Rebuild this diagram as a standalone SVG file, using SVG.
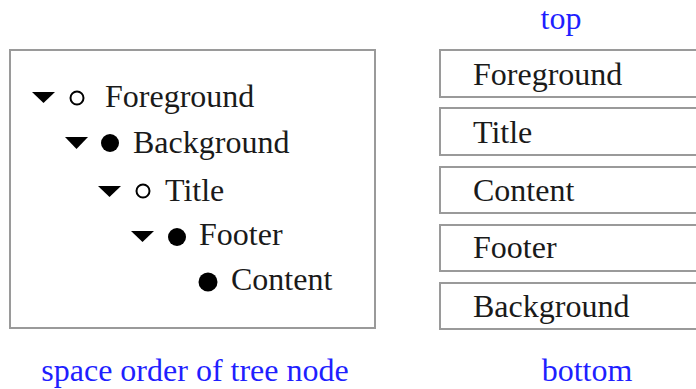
<svg xmlns="http://www.w3.org/2000/svg" width="696" height="389" viewBox="0 0 696 389" font-family="Liberation Serif, serif">
<style>
.t{font-size:32px;fill:#1a1a1a}
.b{font-size:32px;fill:#1f1fff}
.box{fill:#fff;stroke:#9a9a9a;stroke-width:2}
.tri{fill:#000}
.oc{fill:none;stroke:#000;stroke-width:2}
.fc{fill:#000}
</style>
<rect width="696" height="389" fill="#fff"/>
<g id="tree">
<rect class="box" x="10" y="50" width="365" height="278"/>
<g id="n-foreground">
<polygon class="tri" points="32,92 55,92 43.5,103"/>
<circle class="oc" cx="77" cy="98" r="6.5"/>
<text class="t" x="105" y="107" font-family="Liberation Serif, serif">Foreground</text>
</g>
<g id="n-background">
<polygon class="tri" points="65,137 88,137 76.5,149"/>
<circle class="fc" cx="110" cy="143" r="9"/>
<text class="t" x="133" y="153" font-family="Liberation Serif, serif">Background</text>
</g>
<g id="n-title">
<polygon class="tri" points="98,186 121,186 109.5,197"/>
<circle class="oc" cx="143" cy="191" r="6.5"/>
<text class="t" x="165" y="201" font-family="Liberation Serif, serif">Title</text>
</g>
<g id="n-footer">
<polygon class="tri" points="131,231 154,231 142.5,242"/>
<circle class="fc" cx="177" cy="237" r="9"/>
<text class="t" x="199" y="245" font-family="Liberation Serif, serif">Footer</text>
</g>
<g id="n-content">
<circle class="fc" cx="208" cy="282" r="9.5"/>
<text class="t" x="231" y="290" font-family="Liberation Serif, serif">Content</text>
</g>
</g>
<g id="stack">
<g id="s-foreground"><rect class="box" x="440" y="50" width="300" height="47"/><text class="t" x="473" y="85" font-family="Liberation Serif, serif">Foreground</text></g>
<g id="s-title"><rect class="box" x="440" y="108" width="300" height="47"/><text class="t" x="473" y="143" font-family="Liberation Serif, serif">Title</text></g>
<g id="s-content"><rect class="box" x="440" y="167" width="300" height="46"/><text class="t" x="473" y="201" font-family="Liberation Serif, serif">Content</text></g>
<g id="s-footer"><rect class="box" x="440" y="225" width="300" height="46"/><text class="t" x="473" y="258" font-family="Liberation Serif, serif">Footer</text></g>
<g id="s-background"><rect class="box" x="440" y="283" width="300" height="46"/><text class="t" x="473" y="317" font-family="Liberation Serif, serif">Background</text></g>
</g>
<g id="labels">
<text class="b" x="195" y="381" text-anchor="middle" font-family="Liberation Serif, serif">space order of tree node</text>
<text class="b" x="561" y="29" text-anchor="middle" font-family="Liberation Serif, serif">top</text>
<text class="b" x="587" y="381" text-anchor="middle" font-family="Liberation Serif, serif">bottom</text>
</g>
<g id="connectors"></g>
</svg>
